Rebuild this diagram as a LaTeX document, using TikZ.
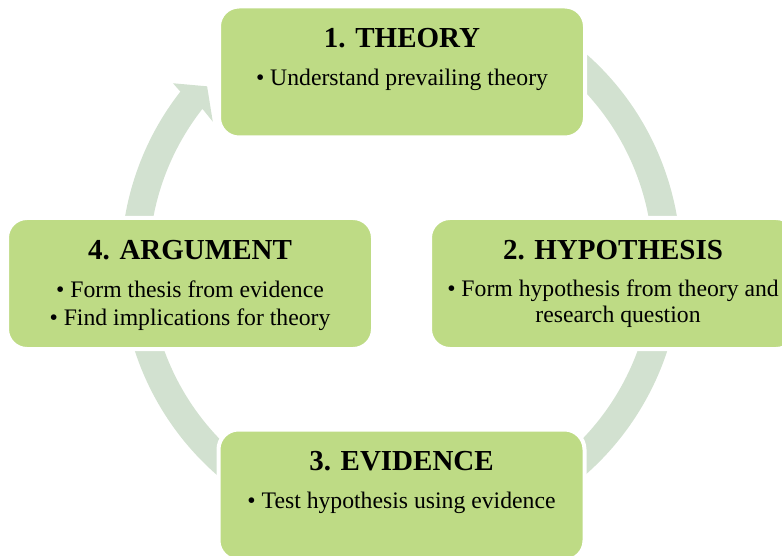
\documentclass[tikz,border=0pt]{standalone}
\usepackage{fontspec}
\setmainfont{Liberation Serif}
\usetikzlibrary{positioning,calc}
\definecolor{boxgreen}{RGB}{190,219,133}
\definecolor{ringgreen}{RGB}{210,225,208}
\begin{document}
\begin{tikzpicture}[x=1pt, y=1pt,
stage/.style={draw=white, line width=4pt, fill=boxgreen, rounded corners=20pt,
  minimum width=366pt, minimum height=131pt, inner sep=0pt},
headline/.style={font=\fontsize{29}{34}\selectfont\bfseries, inner sep=0pt},
bodyline/.style={font=\fontsize{23.7}{28}\selectfont, inner sep=0pt},
ring/.style={fill=ringgreen}]
\useasboundingbox (0,0) rectangle (782,-556);
\clip (0,0) rectangle (782,-556);
\coordinate (hub) at (401,-264);
\fill[ring] ($(hub)+(60:280pt)$) arc[start angle=60, end angle=-218, radius=280pt]
  -- ($(hub)+(-218.4:291pt)$) -- ($(hub)+(-222.5:263pt)$) -- ($(hub)+(-217.1:236pt)$)
  -- ($(hub)+(-218:252pt)$) arc[start angle=-218, end angle=60, radius=252pt] -- cycle;

\node[stage] (theory) at (402,-72) {};
\node[stage] (hypothesis) at (613,-283.5) {};
\node[stage] (evidence) at (401.5,-495) {};
\node[stage] (argument) at (190,-283.5) {};

\node[headline, below=43pt of theory.north, anchor=base] (theoryHead) {1. THEORY};
\node[bodyline, below=38pt of theoryHead.base, anchor=base] (theoryLine) {• Understand prevailing theory};

\node[headline, below=43pt of hypothesis.north, anchor=base] (hypothesisHead) {2. HYPOTHESIS};
\node[bodyline, below=37pt of hypothesisHead.base, anchor=base] (hypothesisLine) {• Form hypothesis from theory and};
\node[bodyline, below=26pt of hypothesisLine.base, anchor=base, xshift=5pt] (hypothesisWrap) {research question};

\node[headline, below=43pt of evidence.north, anchor=base] (evidenceHead) {3. EVIDENCE};
\node[bodyline, below=38pt of evidenceHead.base, anchor=base] (evidenceLine) {• Test hypothesis using evidence};

\node[headline, below=43pt of argument.north, anchor=base] (argumentHead) {4. ARGUMENT};
\node[bodyline, below=38pt of argumentHead.base, anchor=base] (argumentLine) {• Form thesis from evidence};
\node[bodyline, below=28.5pt of argumentLine.base, anchor=base] (argumentWrap) {• Find implications for theory};

\end{tikzpicture}
\end{document}
